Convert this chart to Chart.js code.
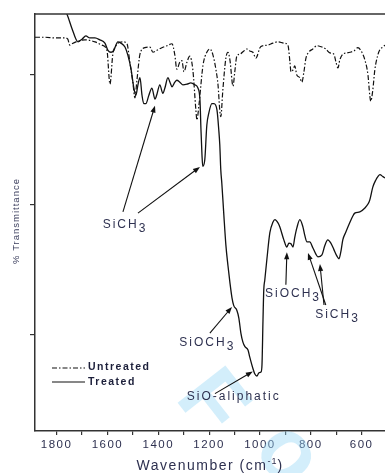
<!DOCTYPE html>
<html><head><meta charset="utf-8">
<script src="https://cdn.jsdelivr.net/npm/chart.js@4.4.1/dist/chart.umd.min.js"></script>
<style>html,body{margin:0;padding:0;background:#fff;}#wrap{width:385px;height:473px;position:relative;}</style>
</head><body><div id="wrap"><canvas id="c" width="385" height="473"></canvas></div>
<script>
// Untreated spectrum (dash-dot)
const untreatedWn = [1885,1846,1807,1767,1756,1748,1740,1716,1689,1649,1622,1602,1590,1579,1567,1539,1523,1512,1500,1492,1484,1472,1453,1433,1421,1405,1386,1366,1346,1335,1327,1315,1307,1299,1287,1276,1264,1252,1248,1240,1224,1209,1197,1185,1173,1165,1158,1154,1146,1134,1126,1118,1106,1099,1091,1079,1063,1051,1040,1028,1016,1012,1000,988,969,949,929,906,890,882,878,870,863,855,843,835,827,819,808,792,776,756,741,725,709,701,693,686,674,658,646,630,615,599,587,575,568,564,556,548,536,528,516,508];
const untreatedT = [65.7,65.7,65.6,65.6,65.4,64.5,64.7,65.1,65.3,65.0,64.5,63.7,58.5,63.0,64.4,65.0,64.7,61.9,58.8,56.4,59.1,63.1,64.1,64.2,63.4,63.7,64.1,64.4,64.7,63.0,60.8,61.9,62.1,60.4,61.9,62.8,60.7,54.5,53.0,55.3,61.4,63.4,63.9,63.0,60.7,58.4,54.5,53.5,57.6,62.5,63.4,62.2,58.2,60.4,62.8,63.1,63.6,63.9,63.6,63.4,62.5,62.7,64.1,64.4,64.5,64.8,65.0,64.8,64.5,61.9,60.4,60.7,61.3,59.9,59.5,58.8,60.4,62.5,63.4,63.9,64.4,64.2,63.9,63.3,63.1,61.9,61.0,62.2,63.1,63.3,63.4,63.6,64.1,63.4,62.2,59.9,56.8,55.9,57.6,60.7,63.0,63.8,64.2,64.5];
// Treated spectrum (solid)
const treatedWn = [1795,1760,1740,1716,1700,1685,1669,1649,1630,1610,1598,1586,1575,1559,1547,1531,1520,1508,1496,1488,1480,1472,1464,1457,1449,1437,1425,1413,1405,1394,1382,1374,1362,1354,1346,1335,1327,1315,1303,1287,1272,1256,1244,1236,1232,1228,1225,1217,1209,1201,1189,1181,1169,1162,1158,1154,1150,1142,1134,1126,1118,1110,1103,1091,1083,1075,1067,1059,1047,1040,1028,1020,1012,1004,996,992,988,985,981,973,961,949,941,929,922,906,894,886,878,870,863,855,843,831,823,815,804,792,780,772,756,745,733,721,709,697,689,682,674,662,646,634,627,607,587,575,568,556,544,536,528,516,508];
const treatedT = [71.3,69.3,67.1,65.0,65.4,65.9,65.6,65.6,65.3,64.8,63.7,63.4,63.7,65.0,64.8,64.2,63.0,61.0,57.9,56.8,58.4,59.5,56.8,55.5,55.5,56.8,57.9,56.2,57.0,58.4,57.1,57.9,59.5,58.8,58.1,58.8,59.1,58.8,58.4,58.5,58.7,58.4,57.9,56.1,51.5,47.6,45.9,46.9,52.2,54.1,55.5,55.5,54.5,51.5,49.2,45.3,43.3,38.4,33.8,30.7,28.0,25.7,24.5,23.8,22.6,20.3,18.9,18.2,17.7,16.6,14.9,14.0,13.7,14.2,14.3,15.4,22.3,26.9,28.4,31.5,35.7,37.3,37.7,37.2,36.6,34.6,33.5,34.1,34.0,33.5,35.0,36.4,37.7,36.6,35.2,34.3,34.3,33.4,32.4,32.0,32.3,33.7,34.6,34.1,33.1,32.1,31.7,32.7,34.6,35.8,37.3,38.3,38.7,38.9,39.5,40.1,40.7,42.7,43.8,44.3,44.6,44.3,44.1];
const xTicks = [600,700,800,900,1000,1100,1200,1300,1400,1500,1600,1700,1800];
const xLabelled = [600,800,1000,1200,1400,1600,1800];
const yTicks = [20,40,60];
const seriesNames = ['Untreated','Treated'];
// Peak annotations: label anchor and arrows [fromWn, fromT, toWn, toT]
const annoText = ['SiCH','SiOCH','SiCH','SiOCH','SiO-aliphatic'];
const annoSub = ['3','3','3','3',''];
const annoWn = [1531,870,695,1207,1103];
const annoT = [36.9,26.4,23.1,18.8,10.5];
const annoArrows = [
  [[1539,38.9,1413,55.2],[1480,38.7,1236,45.8]],
  [[898,27.7,894,32.7]],
  [[741,24.6,811,32.6],[748,24.6,764,30.9]],
  [[1197,20.3,1110,24.3]],
  [[1177,11.0,1028,14.4]]
];

const FONT = '"Liberation Sans", Arial, sans-serif';
const TXT = '#2e3150';
const DASH = [5,2,1.5,2];

function arrow(ctx, x1, y1, x2, y2){
  const a = Math.atan2(y2-y1, x2-x1), L = 7, W = 2.6;
  ctx.beginPath(); ctx.moveTo(x1,y1); ctx.lineTo(x2 - Math.cos(a)*L*0.8, y2 - Math.sin(a)*L*0.8); ctx.stroke();
  ctx.beginPath();
  ctx.moveTo(x2,y2);
  ctx.lineTo(x2 - Math.cos(a)*L + Math.sin(a)*W, y2 - Math.sin(a)*L - Math.cos(a)*W);
  ctx.lineTo(x2 - Math.cos(a)*L - Math.sin(a)*W, y2 - Math.sin(a)*L + Math.cos(a)*W);
  ctx.closePath(); ctx.fill();
}

const decor = {
  id:'decor',
  beforeDraw(chart){ chart.ctx.letterSpacing = '1.5px'; },
  beforeDatasetsDraw(chart){
    const ctx = chart.ctx;
    ctx.save();
    ctx.letterSpacing = '0px';
    ctx.fillStyle = 'rgba(150,215,245,0.42)';
    ctx.font = 'bold 88px ' + FONT;
    ctx.textBaseline = 'alphabetic';
    ctx.save();
    ctx.translate(174, 398);
    ctx.rotate(52*Math.PI/180);
    ctx.fillText('F', 0, 0);
    ctx.restore();
    ctx.save();
    ctx.translate(286, 456);
    ctx.rotate(52*Math.PI/180);
    const ow = ctx.measureText('o').width;
    ctx.fillText('o', -ow/2, 23);
    ctx.restore();
    ctx.restore();
  },
  afterDraw(chart){
    const ctx = chart.ctx, xs = chart.scales.x, ys = chart.scales.y, ca = chart.chartArea;
    ctx.save();
    // top frame
    ctx.strokeStyle = '#333'; ctx.lineWidth = 1.5;
    ctx.beginPath(); ctx.moveTo(ca.left, ca.top); ctx.lineTo(ca.right, ca.top); ctx.stroke();
    // annotations
    ctx.strokeStyle = '#111'; ctx.fillStyle = '#111'; ctx.lineWidth = 1.1;
    annoArrows.forEach(list => list.forEach(a => {
      arrow(ctx, xs.getPixelForValue(a[0]), ys.getPixelForValue(a[1]), xs.getPixelForValue(a[2]), ys.getPixelForValue(a[3]));
    }));
    ctx.fillStyle = TXT; ctx.textBaseline = 'middle'; ctx.textAlign = 'left';
    ctx.font = '12px ' + FONT; ctx.letterSpacing = '2px';
    annoText.forEach((t,i) => {
      const w1 = ctx.measureText(t).width, w2 = annoSub[i] ? ctx.measureText(annoSub[i]).width : 0;
      const cx = xs.getPixelForValue(annoWn[i]), cy = ys.getPixelForValue(annoT[i]);
      const sx = cx - (w1+w2)/2;
      ctx.fillText(t, sx, cy);
      if (annoSub[i]) ctx.fillText(annoSub[i], sx + w1, cy + 4);
    });
    // legend
    ctx.strokeStyle = '#111'; ctx.lineWidth = 1.2;
    ctx.setLineDash(DASH);
    ctx.beginPath(); ctx.moveTo(52,368); ctx.lineTo(85,368); ctx.stroke();
    ctx.setLineDash([]);
    ctx.beginPath(); ctx.moveTo(52,382); ctx.lineTo(85,382); ctx.stroke();
    ctx.fillStyle = '#1c1f3a'; ctx.font = 'bold 10.5px ' + FONT; ctx.letterSpacing = '1.5px';
    ctx.fillText(seriesNames[0], 88, 367.5);
    ctx.fillText(seriesNames[1], 88, 382);
    // y title
    ctx.save();
    ctx.translate(16, 221); ctx.rotate(-Math.PI/2);
    ctx.textAlign = 'center'; ctx.font = '9.5px ' + FONT; ctx.letterSpacing = '1px'; ctx.fillStyle = '#3a3d5c';
    ctx.fillText('% Transmittance', 0, 0);
    ctx.restore();
    // x title
    ctx.fillStyle = TXT; ctx.textAlign = 'left'; ctx.textBaseline = 'alphabetic';
    ctx.font = '14px ' + FONT; ctx.letterSpacing = '1.5px';
    const p1 = 'Wavenumber (cm', p3 = ')';
    const w1 = ctx.measureText(p1).width;
    ctx.font = '9px ' + FONT; ctx.letterSpacing = '1px';
    const w2 = ctx.measureText('-1').width;
    ctx.font = '14px ' + FONT; ctx.letterSpacing = '1.5px';
    const w3 = ctx.measureText(p3).width;
    let sx = 210 - (w1+w2+w3)/2, by = 470;
    ctx.fillText(p1, sx, by);
    ctx.font = '9px ' + FONT; ctx.letterSpacing = '1px';
    ctx.fillText('-1', sx + w1, by - 6);
    ctx.font = '14px ' + FONT; ctx.letterSpacing = '1.5px';
    ctx.fillText(p3, sx + w1 + w2, by);
    ctx.restore();
    ctx.letterSpacing = '0px';
  }
};

new Chart(document.getElementById('c'), {
  type: 'line',
  data: {
    datasets: [
      { label: seriesNames[0], data: untreatedWn.map((w,i)=>({x:w, y:untreatedT[i]})), borderColor:'#111', borderWidth:1.2, borderDash:DASH, pointRadius:0, cubicInterpolationMode:'monotone', fill:false },
      { label: seriesNames[1], data: treatedWn.map((w,i)=>({x:w, y:treatedT[i]})), borderColor:'#111', borderWidth:1.3, pointRadius:0, cubicInterpolationMode:'monotone', fill:false }
    ]
  },
  options: {
    responsive:false, animation:false, devicePixelRatio:1,
    layout:{ padding:{ top:14, left:0, right:0, bottom:0 } },
    plugins:{ legend:{display:false}, tooltip:{enabled:false} },
    scales:{
      x:{ type:'linear', reverse:true, min:508, max:1885,
        afterBuildTicks: s => { s.ticks = xTicks.map(v=>({value:v})); },
        afterFit: s => { s.height = 42; },
        ticks:{ autoSkip:false, maxRotation:0, padding:3, color:'#2e3150', font:{family:FONT, size:11.5},
          callback: v => xLabelled.includes(v) ? String(v) : '' },
        grid:{ display:true, drawOnChartArea:false, drawTicks:true, tickLength:4, color:'#333', lineWidth:1.2 },
        border:{ display:true, color:'#333', width:1.5 }
      },
      y:{ min:5.26, max:69.27,
        afterBuildTicks: s => { s.ticks = yTicks.map(v=>({value:v})); },
        afterFit: s => { s.width = 35; },
        ticks:{ display:false },
        grid:{ display:true, drawOnChartArea:false, drawTicks:true, tickLength:5, color:'#333', lineWidth:1.2 },
        border:{ display:true, color:'#333', width:1.5 }
      }
    }
  },
  plugins:[decor]
});
</script></body></html>
